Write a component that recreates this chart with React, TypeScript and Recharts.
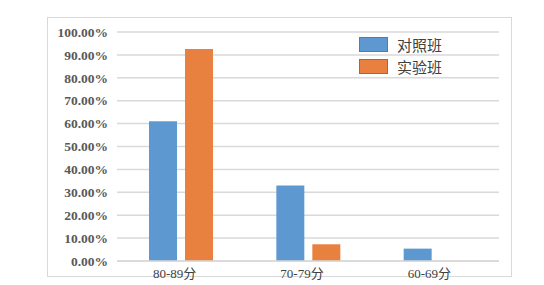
import React from 'react';
import { BarChart, Bar, XAxis, YAxis, CartesianGrid } from 'recharts';

const categories = ['80-89分', '70-79分', '60-69分'];
const controlValues = [61.0, 33.0, 5.4];
const experimentValues = [92.6, 7.3, null];
const yTicks = [0, 10, 20, 30, 40, 50, 60, 70, 80, 90, 100];
const seriesNames = ['对照班', '实验班'];
const seriesColors = ['#5E98D0', '#E8803F'];

const data = categories.map((c, i) => ({
  name: c,
  control: controlValues[i],
  experiment: experimentValues[i],
}));

const LegendBox = () => (
  <div style={{ position: 'absolute', left: 359, top: 37, display: 'flex', flexDirection: 'column', gap: 7 }}>
    {seriesNames.map((n, i) => (
      <div key={n} style={{ display: 'flex', alignItems: 'center', height: 15 }}>
        <div
          style={{
            width: 27,
            height: 13,
            background: seriesColors[i],
            border: '1px solid #4A7EBB',
            marginRight: 9,
          }}
        />
        <span
          style={{
            fontFamily: '"Noto Sans CJK SC", sans-serif',
            fontSize: 15,
            color: '#404040',
            lineHeight: '15px',
          }}
        >
          {n}
        </span>
      </div>
    ))}
  </div>
);

export default function App() {
  return (
    <div style={{ position: 'absolute', left: 0, top: 0, width: 544, height: 285, background: '#fff' }}>
      <div
        style={{
          position: 'absolute',
          left: 47,
          top: 17,
          width: 463,
          height: 258,
          border: '1px solid #d9d9d9',
        }}
      />
      <div style={{ position: 'absolute', left: 0, top: 0 }}>
        <BarChart
          width={544}
          height={285}
          data={data}
          margin={{ top: 32, right: 45, bottom: 0, left: 0 }}
          barSize={28}
          barGap={8}
        >
          <CartesianGrid vertical={false} stroke="#d9d9d9" strokeWidth={1.5} />
          <XAxis
            dataKey="name"
            height={24}
            axisLine={{ stroke: '#d9d9d9', strokeWidth: 1.5 }}
            tickLine={false}
            tick={{ fill: '#404040', fontSize: 13, dx: -6, fontFamily: '"Liberation Serif", "Noto Sans CJK SC", serif' }}
          />
          <YAxis
            width={117}
            domain={[0, 100]}
            ticks={yTicks}
            interval={0}
            axisLine={false}
            tickLine={false}
            tickSize={0}
            tickMargin={9}
            tickFormatter={(v: number) => `${v.toFixed(2)}%`}
            tick={{ fill: '#595959', fontSize: 13.5, fontWeight: 'bold', fontFamily: '"Liberation Serif", serif' }}
          />
          <Bar dataKey="control" name={seriesNames[0]} fill={seriesColors[0]} isAnimationActive={false} />
          <Bar dataKey="experiment" name={seriesNames[1]} fill={seriesColors[1]} isAnimationActive={false} />
        </BarChart>
      </div>
      <LegendBox />
    </div>
  );
}
